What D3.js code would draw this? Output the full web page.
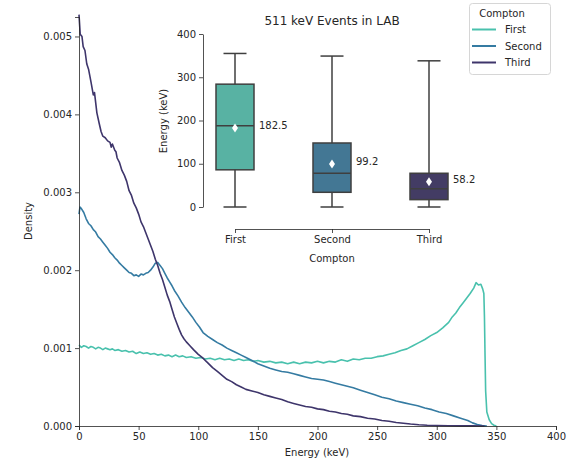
<!doctype html>
<html lang="en">
<head>
  <meta charset="utf-8">
  <script src="https://d3js.org/d3.v7.min.js"></script>
  <style>
    body { margin: 0; background: #fff; }
    text { font-family: "DejaVu Sans", sans-serif; fill: #262626; }
    .axis path, .axis line { stroke: #262626; stroke-width: 0.8; }
    .axis text { font-size: 10px; font-family: "DejaVu Sans", sans-serif; fill: #262626; }
  </style>
</head>
<body>
  <script>
    // ---- data ----
    var series = ["First", "Second", "Third"];
    var lineColors = ["#49c1ad", "#357ba2", "#3e356b"];
    var boxColors = ["#58b2a3", "#437794", "#433c64"];

    var xTicks = [0, 50, 100, 150, 200, 250, 300, 350, 400];
    var yTicks = [0, 0.001, 0.002, 0.003, 0.004, 0.005];

    // histogram outline of the first compton energy, keV / density
    var energyFirst = [0, 2, 4, 6, 8, 10, 12, 14, 16, 18, 20, 22, 24, 26, 28, 30, 33, 36, 39, 42, 45, 48, 51, 54, 57, 60, 63, 66, 69, 72, 75, 78, 81, 84, 87, 90, 94, 98, 102, 106, 110, 114, 118, 122, 126, 130, 134, 138, 142, 146, 150, 155, 160, 165, 170, 175, 180, 185, 190, 195, 200, 205, 210, 215, 220, 225, 230, 235, 240, 245, 250, 255, 260, 265, 270, 275, 280, 285, 290, 295, 300, 305, 310, 313, 316, 319, 322, 325, 328, 331, 333, 335, 337, 338.5, 339.5, 340, 340.5, 341, 342, 344, 346, 348, 350];
    var densityFirst = [0.00104, 0.00101, 0.00103, 0.00102, 0.00100, 0.00102, 0.00101, 0.00099, 0.00101, 0.00100, 0.00098, 0.00100, 0.00099, 0.00098, 0.00099, 0.00097, 0.00098, 0.00096, 0.00097, 0.00095, 0.00096, 0.00093, 0.00095, 0.00093, 0.00094, 0.00092, 0.00093, 0.00091, 0.00092, 0.00090, 0.00091, 0.00089, 0.00091, 0.00089, 0.00090, 0.00088, 0.00089, 0.00087, 0.00088, 0.00086, 0.00087, 0.00085, 0.00087, 0.00085, 0.00086, 0.00084, 0.00086, 0.00084, 0.00085, 0.00083, 0.00084, 0.00082, 0.00083, 0.00081, 0.00082, 0.00080, 0.00082, 0.00080, 0.00082, 0.00081, 0.00083, 0.00081, 0.00083, 0.00082, 0.00085, 0.00083, 0.00086, 0.00085, 0.00087, 0.00087, 0.00089, 0.00090, 0.00092, 0.00094, 0.00097, 0.00099, 0.00103, 0.00107, 0.00111, 0.00116, 0.00120, 0.00126, 0.00133, 0.00140, 0.00145, 0.00152, 0.00158, 0.00164, 0.00170, 0.00177, 0.00184, 0.00181, 0.00182, 0.00176, 0.00170, 0.00140, 0.00090, 0.00045, 0.00018, 0.00008, 0.00003, 0.00001, 0];

    var energySecond = [0, 0.8, 2, 4, 6, 8, 10, 12, 14, 16, 18, 20, 22, 24, 26, 28, 30, 32, 34, 36, 38, 40, 42, 44, 46, 48, 50, 52, 54, 56, 58, 60, 62, 64, 66, 68, 70, 72, 74, 76, 78, 80, 83, 86, 89, 92, 95, 98, 101, 104, 108, 112, 116, 120, 124, 128, 132, 136, 140, 145, 150, 155, 160, 165, 170, 175, 180, 185, 190, 195, 200, 205, 210, 215, 220, 225, 230, 236, 242, 248, 254, 260, 266, 272, 278, 284, 290, 296, 302, 308, 314, 320, 326, 330, 334, 338, 342];
    var densitySecond = [0.00272, 0.00281, 0.00279, 0.00274, 0.00266, 0.00260, 0.00257, 0.00252, 0.00249, 0.00243, 0.00240, 0.00236, 0.00232, 0.00228, 0.00223, 0.00220, 0.00216, 0.00213, 0.00209, 0.00206, 0.00203, 0.00200, 0.00197, 0.00196, 0.00193, 0.00194, 0.00192, 0.00195, 0.00194, 0.00196, 0.00197, 0.00200, 0.00204, 0.00209, 0.00210, 0.00206, 0.00202, 0.00196, 0.00190, 0.00185, 0.00180, 0.00174, 0.00167, 0.00159, 0.00152, 0.00146, 0.00140, 0.00133, 0.00127, 0.00120, 0.00115, 0.00111, 0.00107, 0.00104, 0.00100, 0.00097, 0.00094, 0.00091, 0.00088, 0.00084, 0.00080, 0.00077, 0.00074, 0.00072, 0.00070, 0.00069, 0.00067, 0.00065, 0.00063, 0.00061, 0.00060, 0.00059, 0.00057, 0.00055, 0.00053, 0.00051, 0.00049, 0.00046, 0.00043, 0.00040, 0.00037, 0.00035, 0.00032, 0.00030, 0.00028, 0.00026, 0.00023, 0.00021, 0.00018, 0.00016, 0.00013, 0.00010, 0.00007, 0.00004, 0.00002, 0.000005, 0];

    var energyThird = [0, 1, 2.5, 3.5, 5, 6.5, 8, 10, 12, 13, 15, 17, 18.5, 20, 22, 24, 26, 27, 28, 30, 31, 32, 34, 36, 38, 40, 42, 44, 46, 48, 50, 52, 54, 56, 58, 60, 62, 64, 66, 68, 70, 72, 74, 76, 78, 80, 82, 84, 86, 88, 90, 93, 96, 100, 104, 108, 112, 116, 120, 124, 128, 132, 136, 140, 145, 150, 155, 160, 165, 170, 175, 180, 185, 190, 195, 200, 205, 210, 215, 220, 225, 230, 236, 242, 248, 254, 260, 266, 272, 278, 285, 292, 300, 310, 320, 330, 340];
    var densityThird = [0.00528, 0.00503, 0.00500, 0.00487, 0.00482, 0.00465, 0.00458, 0.00442, 0.00425, 0.00428, 0.00402, 0.00388, 0.00378, 0.00372, 0.00370, 0.00366, 0.00364, 0.00358, 0.00362, 0.00354, 0.00352, 0.00344, 0.00338, 0.00328, 0.00322, 0.00314, 0.00302, 0.00296, 0.00286, 0.00280, 0.00272, 0.00262, 0.00256, 0.00248, 0.00240, 0.00232, 0.00224, 0.00214, 0.00206, 0.00196, 0.00188, 0.00178, 0.00168, 0.00160, 0.00150, 0.00140, 0.00132, 0.00124, 0.00117, 0.00112, 0.00108, 0.00103, 0.00098, 0.00092, 0.00087, 0.00081, 0.00075, 0.00070, 0.00065, 0.00060, 0.00057, 0.00053, 0.00050, 0.00047, 0.00045, 0.00043, 0.00040, 0.00038, 0.00036, 0.00034, 0.00031, 0.00029, 0.00027, 0.00025, 0.00024, 0.00022, 0.00021, 0.00019, 0.00018, 0.00016, 0.00015, 0.00013, 0.00012, 0.00010, 0.00009, 0.00007, 0.00006, 0.000045, 0.000035, 0.000025, 0.000016, 0.00001, 0.000006, 0.000003, 0.000002, 0.000001, 0];

    // box plot summary (keV)
    var boxLow = [0, 0, 0];
    var boxQ1 = [86, 34, 17];
    var boxMedian = [188, 78, 42];
    var boxQ3 = [284, 148, 78];
    var boxHigh = [355, 349, 338];
    var boxMean = [182.5, 99.2, 58.2];
    var insetTicks = [0, 100, 200, 300, 400];

    // ---- set up ----
    var width = 582, height = 466;
    var svg = d3.select("body").append("svg")
        .attr("width", width)
        .attr("height", height);

    var x = d3.scaleLinear().domain([0, 400]).range([79, 556]);
    var y = d3.scaleLinear().domain([0, 0.00525]).range([426, 17]);

    var line = d3.line()
        .x(function(d) { return x(d[0]); })
        .y(function(d) { return y(d[1]); });

    var curves = [
      d3.zip(energyFirst, densityFirst),
      d3.zip(energySecond, densitySecond),
      d3.zip(energyThird, densityThird)
    ];

    svg.selectAll("path.hist")
        .data(curves)
      .enter().append("path")
        .attr("class", "hist")
        .attr("d", line)
        .style("fill", "none")
        .style("stroke", function(d, i) { return lineColors[i]; })
        .style("stroke-width", 1.6)
        .style("stroke-linejoin", "round");

    // main axes (left + bottom only)
    svg.append("g")
        .attr("class", "axis")
        .attr("transform", "translate(0,426)")
        .call(d3.axisBottom(x).tickValues(xTicks).tickSize(4).tickPadding(3));

    svg.append("g")
        .attr("class", "axis")
        .attr("transform", "translate(79,0)")
        .call(d3.axisLeft(y).tickValues(yTicks).tickFormat(d3.format(".3f")).tickSize(4).tickPadding(3));

    svg.selectAll(".axis path.domain").attr("d", function() {
      return d3.select(this).attr("d");
    });

    svg.append("text")
        .attr("x", 317)
        .attr("y", 456)
        .attr("text-anchor", "middle")
        .style("font-size", "10px")
        .text("Energy (keV)");

    svg.append("text")
        .attr("transform", "translate(32,221) rotate(-90)")
        .attr("text-anchor", "middle")
        .style("font-size", "10px")
        .text("Density");

    // ---- inset box plot ----
    var bx = d3.scalePoint().domain(series).range([235, 429]);
    var by = d3.scaleLinear().domain([0, 400]).range([207, 34]);
    var boxW = 38, capW = 23;
    var edge = "#3f3f3f";

    var inset = svg.append("g");

    inset.append("g")
        .attr("class", "axis")
        .attr("transform", "translate(203,0)")
        .call(d3.axisLeft(by).tickValues(insetTicks).tickSize(4).tickPadding(3).tickSizeOuter(0));

    inset.append("g")
        .attr("class", "axis")
        .attr("transform", "translate(0,229)")
        .call(d3.axisBottom(bx).tickSize(4).tickPadding(3).tickSizeOuter(0));

    inset.append("text")
        .attr("x", 332)
        .attr("y", 25)
        .attr("text-anchor", "middle")
        .style("font-size", "12px")
        .text("511 keV Events in LAB");

    inset.append("text")
        .attr("transform", "translate(167,121) rotate(-90)")
        .attr("text-anchor", "middle")
        .style("font-size", "10px")
        .text("Energy (keV)");

    inset.append("text")
        .attr("x", 332)
        .attr("y", 262)
        .attr("text-anchor", "middle")
        .style("font-size", "10px")
        .text("Compton");

    var boxes = inset.selectAll("g.box")
        .data(series)
      .enter().append("g")
        .attr("class", "box");

    // whiskers
    boxes.append("line")
        .attr("x1", function(d) { return bx(d); })
        .attr("x2", function(d) { return bx(d); })
        .attr("y1", function(d, i) { return by(boxLow[i]); })
        .attr("y2", function(d, i) { return by(boxHigh[i]); })
        .style("stroke", edge).style("stroke-width", 1.5);

    boxes.selectAll("line.cap")
        .data(function(d, i) { return [[d, boxLow[i]], [d, boxHigh[i]]]; })
      .enter().append("line")
        .attr("class", "cap")
        .attr("x1", function(d) { return bx(d[0]) - capW / 2; })
        .attr("x2", function(d) { return bx(d[0]) + capW / 2; })
        .attr("y1", function(d) { return by(d[1]); })
        .attr("y2", function(d) { return by(d[1]); })
        .style("stroke", edge).style("stroke-width", 1.5);

    boxes.append("rect")
        .attr("x", function(d) { return bx(d) - boxW / 2; })
        .attr("width", boxW)
        .attr("y", function(d, i) { return by(boxQ3[i]); })
        .attr("height", function(d, i) { return by(boxQ1[i]) - by(boxQ3[i]); })
        .style("fill", function(d, i) { return boxColors[i]; })
        .style("stroke", edge).style("stroke-width", 1.5);

    boxes.append("line")
        .attr("x1", function(d) { return bx(d) - boxW / 2; })
        .attr("x2", function(d) { return bx(d) + boxW / 2; })
        .attr("y1", function(d, i) { return by(boxMedian[i]); })
        .attr("y2", function(d, i) { return by(boxMedian[i]); })
        .style("stroke", edge).style("stroke-width", 1.5);

    // mean markers (thin diamond)
    boxes.append("path")
        .attr("d", function(d, i) {
          var cx = bx(d), cy = by(boxMean[i]);
          return "M" + cx + "," + (cy - 4.5) + "L" + (cx + 3) + "," + cy +
                 "L" + cx + "," + (cy + 4.5) + "L" + (cx - 3) + "," + cy + "Z";
        })
        .style("fill", "#fff");

    boxes.append("text")
        .attr("x", function(d) { return bx(d) + 24; })
        .attr("y", function(d, i) { return by(boxMean[i]) + 1; })
        .style("font-size", "10px")
        .text(function(d, i) { return d3.format(".1f")(boxMean[i]); });

    // ---- legend ----
    var legend = svg.append("g");
    legend.append("rect")
        .attr("x", 469.5).attr("y", 3.5)
        .attr("width", 81).attr("height", 71)
        .attr("rx", 3)
        .style("fill", "#fff")
        .style("stroke", "#d6d6d6")
        .style("stroke-width", 1);

    legend.append("text")
        .attr("x", 502).attr("y", 17)
        .attr("text-anchor", "middle")
        .style("font-size", "10px")
        .text("Compton");

    var items = legend.selectAll("g.item")
        .data(series)
      .enter().append("g")
        .attr("class", "item")
        .attr("transform", function(d, i) { return "translate(0," + (29.5 + i * 16.5) + ")"; });

    items.append("line")
        .attr("x1", 472).attr("x2", 496)
        .style("stroke", function(d, i) { return lineColors[i]; })
        .style("stroke-width", 2);

    items.append("text")
        .attr("x", 505).attr("y", 3.5)
        .style("font-size", "10px")
        .text(function(d) { return d; });
  </script>
</body>
</html>
